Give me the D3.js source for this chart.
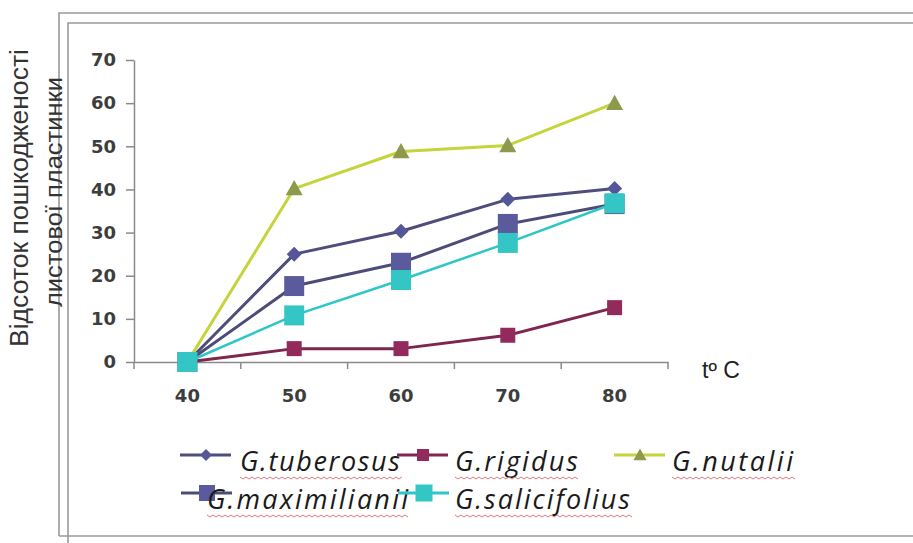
<!DOCTYPE html>
<html><head><meta charset="utf-8">
<script src="https://cdn.jsdelivr.net/npm/d3@7"></script>
<style>html,body{margin:0;padding:0;background:#fff;}svg{display:block;}</style>
</head><body>
<script>
const categories = ["40","50","60","70","80"];
const seriesNames = ["G.tuberosus","G.rigidus","G.nutalii","G.maximilianii","G.salicifolius"];
const tuberosus = [0, 25, 30.3, 37.7, 40.2];
const rigidus = [0, 3.1, 3.1, 6.2, 12.6];
const nutalii = [0, 40.2, 48.8, 50.2, 60];
const maximilianii = [0, 17.6, 23, 32, 36.6];
const salicifolius = [0, 10.8, 19, 27.6, 36.8];
const yTicks = [0,10,20,30,40,50,60,70];
const yTitle1 = "Відсоток пошкодженості";
const yTitle2 = "листової пластинки";
const xTitle = "tº C";

const W = 913, H = 543;
const svg = d3.select("body").append("svg").attr("width", W).attr("height", H);

// frame (double border)
const frame = svg.append("g").attr("fill","none").attr("stroke","#9a9a9a").attr("stroke-width",1.6);
frame.append("path").attr("d","M59,536 V13 H913");
frame.append("path").attr("d","M68,543 V23 H913");
frame.append("path").attr("d","M59,536 H913");

const x = d3.scaleBand().domain(categories).range([134, 668]).paddingInner(0).paddingOuter(0);
const y = d3.scaleLinear().domain([0,70]).range([362, 60]);

const axisColor = "#8a8a8a";
const tickFont = "DejaVu Sans, sans-serif";

// Y axis
const gy = svg.append("g").attr("transform","translate(134,0)")
  .call(d3.axisLeft(y).tickValues(yTicks).tickSize(8).tickPadding(10).tickSizeOuter(0));
gy.select(".domain").attr("stroke",axisColor).attr("stroke-width",1.5);
gy.selectAll(".tick line").attr("stroke",axisColor).attr("stroke-width",1.5);
gy.selectAll(".tick text").attr("font-family",tickFont).attr("font-weight","bold")
  .attr("font-size",18).attr("fill","#3d3d3d");

// X axis (labels at band centers, ticks at band boundaries)
const gx = svg.append("g").attr("transform",`translate(0,${y(0)})`)
  .call(d3.axisBottom(x).tickSize(0).tickPadding(27).tickSizeOuter(0));
gx.select(".domain").attr("stroke",axisColor).attr("stroke-width",1.5);
gx.selectAll(".tick text").attr("font-family",tickFont).attr("font-weight","bold")
  .attr("font-size",18).attr("fill","#3d3d3d");
const bounds = categories.map(c => x(c)).concat([x.range()[1]]);
gx.selectAll("line.bt").data(bounds).enter().append("line").attr("class","bt")
  .attr("x1",d=>d).attr("x2",d=>d).attr("y1",0).attr("y2",7)
  .attr("stroke",axisColor).attr("stroke-width",1.5);

// axis titles
svg.append("text").attr("transform","translate(28,198) rotate(-90)")
  .attr("text-anchor","middle").attr("font-family","Liberation Sans, Arial, sans-serif")
  .attr("font-size",25).attr("fill","#333")
  .attr("textLength",298).attr("lengthAdjust","spacingAndGlyphs").text(yTitle1);
svg.append("text").attr("transform","translate(62,192) rotate(-90)")
  .attr("text-anchor","middle").attr("font-family","Liberation Sans, Arial, sans-serif")
  .attr("font-size",23).attr("fill","#333")
  .attr("textLength",230).attr("lengthAdjust","spacingAndGlyphs").text(yTitle2);
svg.append("text").attr("x",702).attr("y",378)
  .attr("font-family","Liberation Sans, Arial, sans-serif")
  .attr("font-size",23).attr("fill","#222").text(xTitle);

// series definitions
const series = [
  {name: seriesNames[0], values: tuberosus, line:"#4e4d7c", fill:"#55559a", shape:"diamond", size:15, lw:3, ls:12},
  {name: seriesNames[1], values: rigidus, line:"#7e2550", fill:"#922a5c", shape:"square", size:15, lw:3, ls:12},
  {name: seriesNames[2], values: nutalii, line:"#c5d43a", fill:"#8d9a4c", shape:"triangle", size:17, lw:3, ls:13},
  {name: seriesNames[3], values: maximilianii, line:"#4d4c78", fill:"#5b5a9c", shape:"square", size:20, lw:3, ls:16},
  {name: seriesNames[4], values: salicifolius, line:"#2ec6c6", fill:"#33c6c4", shape:"square", size:20, lw:2.5, ls:17}
];

function markerPath(shape, s){
  const h = s/2;
  if (shape === "diamond") return `M0,${-h}L${h},0L0,${h}L${-h},0Z`;
  if (shape === "triangle") return `M0,${-h}L${h},${h*0.8}L${-h},${h*0.8}Z`;
  return `M${-h},${-h}H${h}V${h}H${-h}Z`;
}

const line = d3.line().x((d,i)=>x(categories[i]) + x.bandwidth()/2).y(d=>y(d));

series.forEach(s => {
  const g = svg.append("g");
  g.append("path").attr("d", line(s.values)).attr("fill","none")
    .attr("stroke", s.line).attr("stroke-width", s.lw).attr("stroke-linejoin","round");
  g.selectAll("path.m").data(s.values).enter().append("path").attr("class","m")
    .attr("transform",(d,i)=>`translate(${x(categories[i]) + x.bandwidth()/2},${y(d)})`)
    .attr("d", markerPath(s.shape, s.size)).attr("fill", s.fill);
});

// legend
const legendPos = [
  {lx:206, ly:455, tx:240, tw:160},
  {lx:423, ly:455, tx:455, tw:123},
  {lx:640, ly:455, tx:672, tw:121},
  {lx:207, ly:493, tx:207, tw:201},
  {lx:424, ly:493, tx:455, tw:175}
];
const lg = svg.append("g");
series.forEach((s,i) => {
  const p = legendPos[i];
  const g = lg.append("g");
  g.append("line").attr("x1",p.lx-26).attr("x2",p.lx+25).attr("y1",p.ly).attr("y2",p.ly)
    .attr("stroke", s.line).attr("stroke-width",3);
  g.append("path").attr("transform",`translate(${p.lx},${p.ly})`)
    .attr("d", markerPath(s.shape, s.ls)).attr("fill", s.fill);
  g.append("text").attr("x",p.tx).attr("y",p.ly+16)
    .attr("font-family","Open Sans, Noto Sans, sans-serif").attr("font-style","italic")
    .attr("font-size",27).attr("fill","#1a1a1a")
    .attr("textLength",p.tw).attr("lengthAdjust","spacing").text(s.name);
  // spell-check wavy underline
  let d = `M${p.tx},${p.ly+22}`;
  for (let xx = p.tx, k = 0; xx < p.tx + p.tw; xx += 3, k++) {
    d += `L${xx+3},${p.ly+22 + (k%2===0?2:0)}`;
  }
  g.append("path").attr("d", d).attr("fill","none").attr("stroke","#d87a7a").attr("stroke-width",1);
});
</script>
</body></html>
